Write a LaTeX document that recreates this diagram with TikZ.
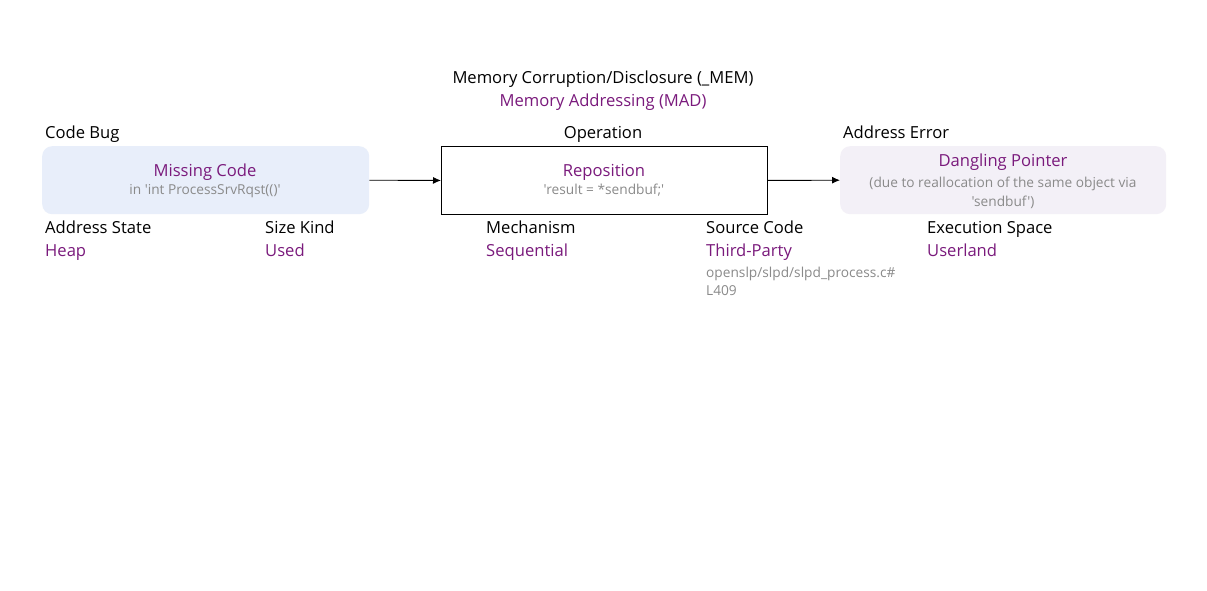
\documentclass[tikz,border=0pt]{standalone}
\usepackage{fontspec}
\setmainfont{Open Sans}[Ligatures=TeXOff]
\usetikzlibrary{arrows.meta}
\definecolor{purp}{HTML}{7A1A7C}
\definecolor{grayt}{HTML}{8A8A8A}
\definecolor{bluefill}{HTML}{E8EEFA}
\definecolor{lilfill}{HTML}{F3F0F7}
\tikzset{
  lbl/.style={inner sep=0pt, font=\fontsize{16.6}{20}\selectfont, text=black},
  val/.style={inner sep=0pt, font=\fontsize{16.6}{20}\selectfont, text=purp},
  sub/.style={inner sep=0pt, font=\fontsize{13.7}{16}\selectfont, text=grayt},
  boxr/.style={rounded corners=10pt, draw=none},
  conn/.style={-{Latex[length=8pt,width=7pt]}, line width=0.9pt},
}
\begin{document}
\begin{tikzpicture}[x=1pt,y=-1pt]
\useasboundingbox[fill=white] (0,0) rectangle (1207,591);
% boxes
\node[boxr, fill=bluefill, minimum width=327pt, minimum height=68pt, anchor=north west, inner sep=0pt] (b1) at (42,146) {};
\node[draw=black, line width=0.9pt, fill=white, minimum width=326pt, minimum height=68pt, anchor=north west, inner sep=0pt] (b2) at (441,146) {};
\node[boxr, fill=lilfill, minimum width=326pt, minimum height=68pt, anchor=north west, inner sep=0pt] (b3) at (840,146) {};
% title
\node[lbl, anchor=base] (t1) at (603,84) {Memory Corruption/Disclosure (\_MEM)};
\node[val, anchor=base] (t2) at (603,107) {Memory Addressing (MAD)};
% headers
\node[lbl, anchor=base west] (h1) at (45,139) {Code Bug};
\node[lbl, anchor=base] (h2) at (603,139) {Operation};
\node[lbl, anchor=base west] (h3) at (843,139) {Address Error};
% box texts
\node[val, anchor=base] (m1) at (205,176) {Missing Code};
\node[sub, anchor=base] (s1) at (205,194) {in 'int ProcessSrvRqst(()'};
\node[val, anchor=base] (m2) at (604,176) {Reposition};
\node[sub, anchor=base] (s2) at (604,194) {'result = *sendbuf;'};
\node[val, anchor=base] (m3) at (1003,166) {Dangling Pointer};
\node[sub, anchor=base] (s3a) at (1003,187) {(due to reallocation of the same object via};
\node[sub, anchor=base] (s3b) at (1003,206) {'sendbuf')};
% attributes
\node[lbl, anchor=base west] (a1) at (45,233) {Address State};
\node[val, anchor=base west] (v1) at (45,256) {Heap};
\node[lbl, anchor=base west] (a2) at (265,233) {Size Kind};
\node[val, anchor=base west] (v2) at (265,256) {Used};
\node[lbl, anchor=base west] (a3) at (486,233) {Mechanism};
\node[val, anchor=base west] (v3) at (486,256) {Sequential};
\node[lbl, anchor=base west] (a4) at (706,233) {Source Code};
\node[val, anchor=base west] (v4) at (706,256) {Third-Party};
\node[sub, anchor=base west] (v4a) at (706,277) {openslp/slpd/slpd\_process.c\#};
\node[sub, anchor=base west] (v4b) at (706,295) {L409};
\node[lbl, anchor=base west] (a5) at (927,233) {Execution Space};
\node[val, anchor=base west] (v5) at (927,256) {Userland};
% connectors
\draw[conn] (b1.east) -- (b2.west);
\draw[conn] (b2.east) -- (b3.west);
\end{tikzpicture}
\end{document}
